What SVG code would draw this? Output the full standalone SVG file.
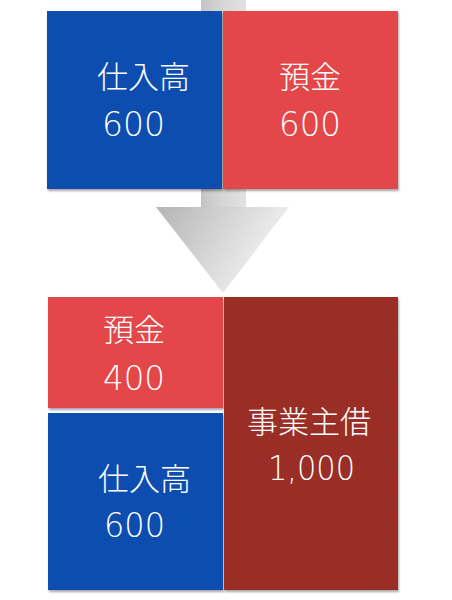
<svg xmlns="http://www.w3.org/2000/svg" width="452" height="600" viewBox="0 0 452 600">
  <defs>
    <linearGradient id="shaftGrad" x1="0" y1="0" x2="1" y2="0">
      <stop offset="0" stop-color="#c4c4c4"/>
      <stop offset="0.5" stop-color="#d6d6d6"/>
      <stop offset="1" stop-color="#e2e2e2"/>
    </linearGradient>
    <linearGradient id="headGrad" x1="0" y1="0" x2="1" y2="0.4">
      <stop offset="0" stop-color="#b4b4b4"/>
      <stop offset="1" stop-color="#f4f4f4"/>
    </linearGradient>
    <filter id="shadow" x="-5%" y="-5%" width="110%" height="110%">
      <feDropShadow dx="1" dy="2" stdDeviation="1.2" flood-color="#000" flood-opacity="0.35"/>
    </filter>
    <filter id="paperShadow" x="-5%" y="-5%" width="110%" height="110%">
      <feTurbulence type="fractalNoise" baseFrequency="0.9" numOctaves="2" seed="3" result="n"/>
      <feColorMatrix in="n" type="matrix" values="0 0 0 0 0  0 0 0 0 0  0 0 0 0 0  0 0 0 0.16 0" result="dark"/>
      <feComposite in="dark" in2="SourceGraphic" operator="in" result="d2"/>
      <feMerge result="tex">
        <feMergeNode in="SourceGraphic"/>
        <feMergeNode in="d2"/>
      </feMerge>
      <feDropShadow in="tex" dx="1" dy="2" stdDeviation="1.2" flood-color="#000" flood-opacity="0.35"/>
    </filter>
  </defs>
  <style>
    .blue { fill: #0a4eb0; }
    .red { fill: #e4464a; }
    .dark { fill: #a0302a; }
    .lbl { fill: #ffffff; font-family: "Noto Sans CJK JP", "Noto Sans", sans-serif; font-size: 31px; font-weight: 300; }
    .num { fill: #ffffff; font-family: "DejaVu Sans", "Noto Sans", sans-serif; font-size: 33px; font-weight: 200; }
  </style>

  <g id="connectors">
    <rect x="201" y="0" width="45" height="210" fill="url(#shaftGrad)"/>
    <path d="M156,207 L289,207 L223,293 Z" fill="url(#headGrad)"/>
  </g>

  <g id="top-shiire">
    <rect class="blue" x="47" y="11" width="175" height="178" filter="url(#shadow)"/>
    <text class="lbl" x="97" y="88">仕入高</text>
    <text class="num" x="102" y="136" textLength="63" lengthAdjust="spacingAndGlyphs">600</text>
  </g>

  <g id="top-yokin">
    <rect class="red" x="223" y="11" width="175" height="178" filter="url(#shadow)"/>
    <text class="lbl" x="279" y="88">預金</text>
    <text class="num" x="279" y="136" textLength="62" lengthAdjust="spacingAndGlyphs">600</text>
  </g>

  <g id="bottom-yokin">
    <rect class="red" x="48" y="297" width="175" height="111" filter="url(#shadow)"/>
    <text class="lbl" x="103" y="341">預金</text>
    <text class="num" x="103" y="390" textLength="62" lengthAdjust="spacingAndGlyphs">400</text>
  </g>

  <g id="bottom-shiire">
    <rect class="blue" x="48" y="413" width="175" height="177" filter="url(#shadow)"/>
    <text class="lbl" x="98" y="490">仕入高</text>
    <text class="num" x="104" y="537" textLength="61" lengthAdjust="spacingAndGlyphs">600</text>
  </g>

  <g id="bottom-jigyounushikari">
    <rect class="dark" x="224" y="297" width="174" height="293" filter="url(#paperShadow)"/>
    <text class="lbl" x="247" y="433">事業主借</text>
    <text class="num" x="268" y="480" textLength="87" lengthAdjust="spacingAndGlyphs">1,000</text>
  </g>
</svg>
